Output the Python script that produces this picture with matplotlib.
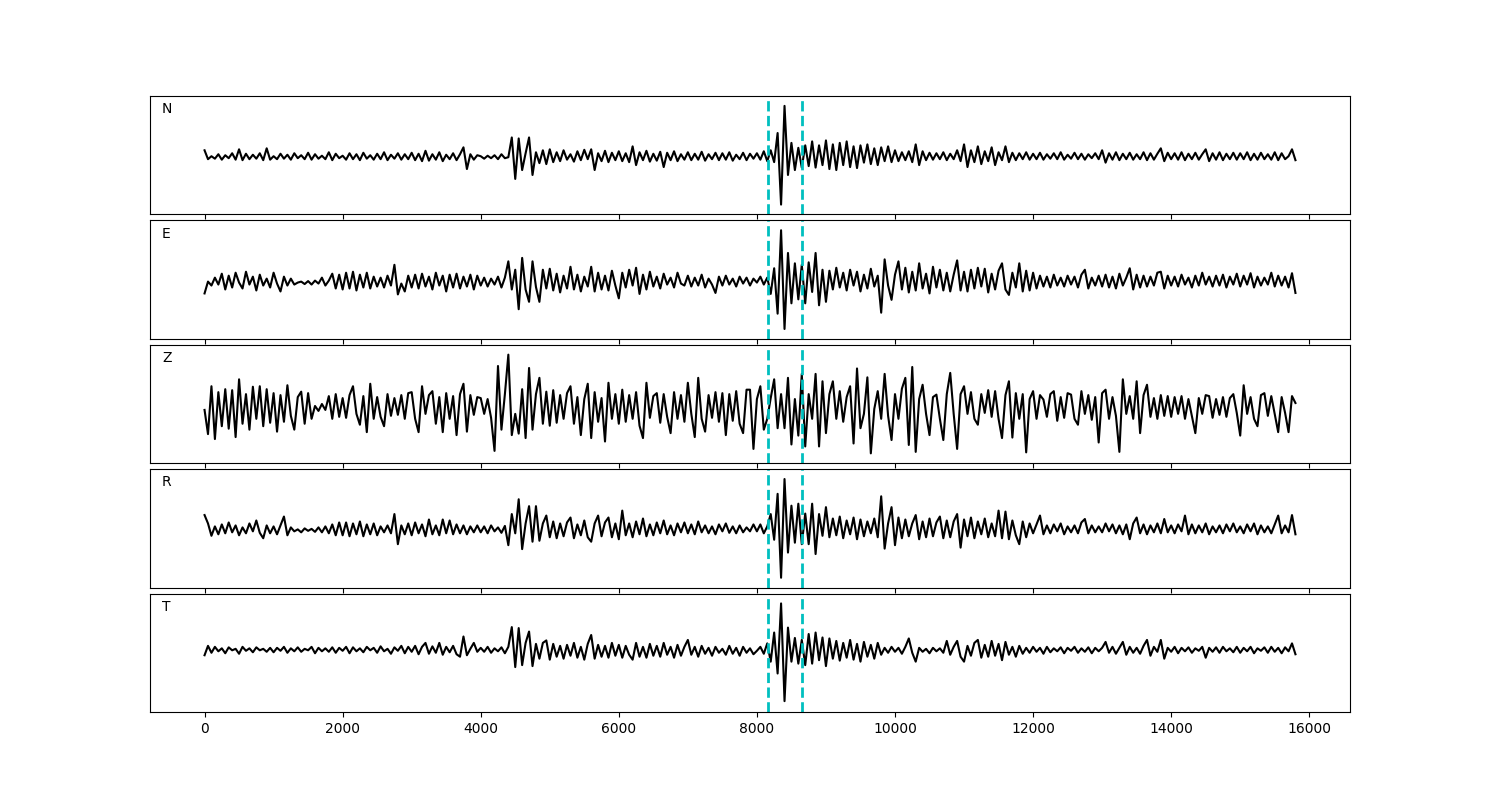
import numpy as np
import matplotlib
matplotlib.use("Agg")
import matplotlib.pyplot as plt

# channel names and sampling
channels = ["N", "E", "Z", "R", "T"]
sample_step = 50          # time units between samples
pick_times = [8160, 8660]  # dashed cyan markers

# normalised amplitudes (hundredths), one value every 50 time units, 0..15800
n_amp = (
    [10, -8, -2, -7, 2, -9, 0, -6, 4, -9, 12, -10, 3, -8, 1, -7, 4, -10, 14, -9]
    + [-2, -8, 3, -7, 1, -9, 4, -6, 0, -8, 5, -9, 2, -7, -1, -8, 6, -10, 3, -6]
    + [-1, -9, 4, -8, 2, -10, 5, -7, 0, -9, 3, -8, 6, -10, 1, -7, 4, -9, 2, -8]
    + [5, -10, 3, -12, 9, -11, 2, -9, 6, -12, 1, -8, 4, -10, 2, 16, -28, 2, -9, 0]
    + [-2, -7, -1, -6, 0, -8, 2, -6, -4, 36, -48, 34, -30, 4, 36, -40, 6, -16, 10, -18]
    + [12, -14, 6, -12, 10, -9, 2, -13, 8, -10, 11, -8, 12, -30, 4, -12, 9, -14, 5, -10]
    + [8, -12, 4, -14, 18, -20, 6, -10, 9, -13, 3, -11, 7, -24, 5, -10, 8, -12, 2, -9]
    + [6, -10, 3, -9, 7, -11, 2, -8, 5, -10, 4, -9, 6, -11, 1, -8, 5, -10, 3, -7]
    + [4, -9, 8, -12, 10, -14, 45, -100, 100, -40, 25, -30, 15, -25, 20, -22, 28, -25, 20, -20]
    + [30, -28, 22, -30, 25, -20, 28, -24, 18, -26, 20, -15, 22, -18, 14, -20, 16, -12, 18, -14]
    + [10, -12, 6, -10, 8, -14, 22, -20, 8, -10, 5, -9, 4, -8, 6, -10, 3, -8, 10, -12]
    + [22, -24, 10, -14, 18, -18, 8, -12, 16, -20, 6, -10, 18, -14, 5, -10, 4, -8, 6, -9]
    + [3, -8, 5, -9, 2, -7, 4, -8, 6, -9, 1, -7, 5, -8, 3, -9, 2, -6, 4, -8]
    + [10, -15, 4, -9, 6, -10, 3, -8, 5, -9, 2, -8, 6, -10, 4, -9, 3, 14, -12, 5]
    + [-8, 4, -9, 6, -10, 3, -8, 5, -9, 2, 12, -12, 4, -9, 6, -10, 3, -8, 5, -9]
    + [4, -8, 6, -10, 3, -9, 5, -8, 2, -9, 6, -10, 4, -8, -2, 12, -10]
)

e_amp = (
    [-28, -4, -12, 4, -10, 12, -20, 8, -16, 14, -6, -18, 16, -10, 6, -22, 10, -12, 2, -16]
    + [14, -8, -24, 6, -12, 2, -10, -6, -4, -9, -3, -10, -2, -8, 4, -12, -2, 12, -18, 10]
    + [-20, 14, -18, 16, -22, 10, -16, 14, -18, 6, -14, 4, -16, 8, -12, 30, -30, -8, -24, 8]
    + [-16, 10, -18, 12, -14, 6, -20, 14, -12, 8, -24, 10, -16, 12, -18, 6, -14, 10, -20, 8]
    + [-12, 4, -14, 2, -10, 6, -16, 4, 37, -20, 20, -60, 44, -20, -45, 37, -15, -45, 20, -18]
    + [22, -22, 12, -26, 8, -18, 26, -20, 10, -24, 6, -14, 26, -24, 14, -20, 8, -22, 18, -12]
    + [-38, 14, -16, 20, -12, 24, -29, 10, -20, 16, -14, 6, -18, 12, -10, 4, -16, 14, -8, -12]
    + [8, -14, 4, -12, 10, -16, 2, -10, -27, 6, -12, 8, -10, 2, -14, 6, -8, 4, -12, 2]
    + [-6, 6, -10, 4, -29, 23, -69, 100, -100, 54, -48, 33, -40, 30, -48, 35, -25, 54, -52, 20]
    + [-45, 18, -20, 24, -16, 14, -22, 20, -12, 16, -24, 10, -18, 22, -14, 8, -67, 41, -12, -41]
    + [10, 37, -20, 24, -26, 16, -22, 33, -18, 12, -28, 26, -16, 20, -22, 14, -24, 10, 39, -22]
    + [16, -24, 20, -18, 24, -14, 22, -26, 12, -20, 18, 33, -20, -31, 14, -16, 33, -24, 18, -22]
    + [14, -18, 8, -14, 6, -16, 10, -12, 4, -14, 8, -10, 6, -16, 10, 20, -18, 4, -12, 8]
    + [-14, 10, -16, 6, -18, 12, -12, 4, 23, -20, 10, -16, 8, -14, 6, -12, 14, 16, -18, 8]
    + [-12, 6, -14, 10, -10, 4, -16, 8, -12, 14, -10, 6, -14, 8, -12, 10, -16, 6, -10, 12]
    + [-14, 8, -10, 13, -16, 6, -12, 4, -10, 14, -14, 8, -12, 6, -16, 13, -27]
)

z_amp = (
    [-12, -61, 36, -71, 24, -45, 30, -50, 28, -67, 50, -40, 20, -52, 35, -30, 36, -45, 30, -38]
    + [22, -56, 18, -36, 38, -24, -52, 14, 25, -40, 22, -30, -4, -14, 0, -12, 16, -30, 20, -26]
    + [12, -28, 18, 36, -20, -42, 16, -57, 41, -30, 14, -26, -45, 20, -24, 12, -22, 18, -30, 22]
    + [24, -30, -57, 36, -20, 18, 26, -40, 14, -57, 22, -30, 16, -63, 20, 41, -56, 18, -22, 14]
    + [12, -20, 10, -28, -95, 77, -52, 20, 100, -63, -20, -60, 30, -69, 73, -52, 20, 53, -40, 25]
    + [-44, 28, -38, 18, -30, 22, 36, -40, 14, -63, 10, 41, -69, 24, -36, 12, -76, 43, -30, 20]
    + [-40, 29, -36, 18, -30, 24, -44, -69, 43, -28, 16, 22, -38, 20, -26, -59, 24, -30, 18, -36]
    + [43, -20, -67, 53, -30, -56, 18, -28, 24, -36, 22, -63, 20, -34, 26, -40, -59, 29, 29, -91]
    + [10, 36, -52, -30, 12, 50, -49, 20, -49, 53, -82, 10, -64, 61, -86, 20, -30, 61, -86, 46]
    + [-59, 20, 46, -30, 26, -36, 14, 36, -80, 72, -49, -20, 54, -100, -10, 26, -30, 61, -24, -73]
    + [20, -30, 31, 53, -83, 75, -97, 10, 39, -20, -63, 14, 19, -30, -73, 20, 63, -20, -91, 20]
    + [36, -20, 24, -30, -42, 20, -18, 28, -26, 26, -30, -69, 18, 46, -68, 22, -30, 20, -98, 10]
    + [26, -30, 18, 9, -26, 20, 26, -34, 14, -28, 22, 19, -30, -42, 26, -20, 18, -32, 14, -78]
    + [22, 29, -30, 14, -24, -97, 50, -20, 16, -30, 46, -59, 18, 39, -26, 12, -30, 18, -24, 16]
    + [-26, 14, -20, 16, -30, 10, -24, -59, 12, -20, 18, 16, -28, 10, -22, 14, -26, 12, 20, -18]
    + [-64, 38, -20, 14, -30, -45, 18, 22, -24, 16, -20, -57, 14, -18, -57, 16, 2]
)

r_amp = (
    [27, 10, -15, 4, -12, 8, -10, 12, -8, 6, -14, 2, -10, 10, -6, 16, -9, -20, 6, -10]
    + [4, -12, 6, 24, -14, 2, -6, -2, -8, 0, -5, -1, -7, 2, -8, 4, -10, 8, -14, 12]
    + [-14, 12, -16, 10, -12, 14, -16, 8, -12, 10, -14, 4, -8, 6, -10, 29, -32, 6, -12, 10]
    + [-14, 12, -10, 8, -16, 18, -12, 6, -14, 18, -10, 16, -12, 8, -10, 6, -12, 4, -8, 6]
    + [-8, 4, -10, 6, -6, 2, -9, 5, -34, 29, -10, 59, -42, 10, 45, -27, 45, -25, 10, 26]
    + [-18, 14, -20, 10, -16, 12, 22, -20, 8, -14, 16, -18, -27, 10, 26, -16, 12, 22, -18, 10]
    + [-22, 36, -14, 10, -18, 14, -12, 20, -16, 8, -14, 12, -10, 16, -12, 6, -14, 10, -8, 12]
    + [-10, 8, -12, 14, -8, 6, -10, 4, -12, 8, -6, 10, -9, 4, -10, 6, -8, 2, -6, 8]
    + [-6, 8, -10, 4, 29, -23, 70, -100, 100, -49, 46, -29, 50, -32, 30, -32, 50, -52, 29, -15]
    + [43, -18, 20, -14, 24, -20, 16, -12, 22, -22, 18, -16, 14, -10, 20, -18, 65, -41, 10, 43]
    + [-34, 22, -20, 18, -16, 10, 27, -22, 14, -18, 20, -16, 12, 24, -20, 16, -18, 14, 29, -39]
    + [18, -16, 22, -20, 14, -12, 20, -18, 10, -16, 36, -20, 34, -22, 16, -14, -32, 14, -18, 10]
    + [-10, 8, 26, -12, 6, -10, 8, -6, 10, -12, 4, -8, 6, -10, 12, 19, -10, 6, -8, 4]
    + [-8, 10, -6, 8, -10, 6, -12, 8, -22, 10, 22, -10, 8, -12, 6, -8, 10, -10, 19, -8]
    + [6, -10, 8, -6, 26, -12, 8, -10, 6, -8, 10, -12, 4, -8, 6, -10, 8, -6, 10, -8]
    + [4, -10, 8, -6, 10, -12, 6, -8, 4, -10, 8, 26, -10, 6, -8, 27, -12]
)

t_amp = (
    [-5, 14, 0, 12, 3, 9, -1, 11, 5, 8, -2, 12, 4, 9, 1, 11, 5, 8, 2, 10]
    + [1, 10, 4, 12, 0, 9, 3, 11, 2, 8, 5, 12, -1, 10, 3, 9, 2, 11, 0, 10]
    + [4, 12, -1, 11, 3, 9, 1, 12, 5, 10, 0, 13, 3, 8, -2, 11, 4, 14, -1, 12]
    + [2, 14, -3, 12, 20, -2, 13, 0, 20, -4, 12, 1, 14, -3, -8, 33, -5, 8, 20, 2]
    + [10, 2, 12, 0, 9, 3, 11, -1, 12, 52, -29, 50, -25, 20, 43, -27, 18, -12, 20, 25]
    + [-14, 18, -8, 14, -12, 16, -6, 20, -10, 12, -14, 18, 36, -12, 16, -8, 14, -10, 20, -6]
    + [16, -10, 14, -4, -14, 20, -8, 12, -10, 18, -6, 14, -8, 20, -4, 12, -10, 16, -6, 12]
    + [26, -4, 12, -8, 14, -2, 10, -6, 12, 0, 8, -4, 14, -2, 10, -6, 12, 0, 9, -3]
    + [4, 12, -2, 19, -18, 41, -42, 100, -98, 51, -18, 30, -22, 26, -25, 38, -22, 41, -15, 31]
    + [-27, 29, -12, 24, -16, 20, -10, 26, -14, 18, -18, 22, -8, 16, -12, 20, -4, 10, 0, 12]
    + [2, 10, -2, 12, 29, 0, -18, 10, 2, 8, -1, 10, 3, 9, 0, 24, -4, 12, 24, -8]
    + [-18, 14, -6, 20, 26, -10, 16, -8, 24, -6, 18, -15, 22, -4, 12, -8, 14, -2, 10, 0]
    + [12, 2, 10, -2, 12, 1, 9, 3, 11, -1, 10, 4, 12, 0, 9, 2, 11, -1, 10, 3]
    + [10, 22, 0, 12, -2, 10, 22, -4, 12, 0, 10, -2, 14, 26, -6, 12, 2, 26, -12, 10]
    + [2, 12, -1, 10, 3, 11, 0, 9, 4, 12, -10, 10, 2, 11, 0, 12, 3, 9, 1, 12]
    + [0, 10, 3, 12, -1, 9, 4, 11, 0, 12, 2, 10, -1, 11, 3, 19, -3]
)

traces = [n_amp, e_amp, z_amp, r_amp, t_amp]

fig, axes = plt.subplots(5, 1, sharex=True, figsize=(15, 8), dpi=100)
fig.subplots_adjust(left=0.1, right=0.9, top=0.88, bottom=0.11, hspace=0.05)

for ax, name, amp in zip(axes, channels, traces):
    y = np.asarray(amp, dtype=float) / 100.0
    t = np.arange(len(y)) * sample_step
    ax.plot(t, y, color="k", lw=1.5)
    for p in pick_times:
        ax.axvline(p, color="c", ls="--", lw=2)
    ax.set_ylim(-1.2, 1.2)
    ax.set_yticks([])
    ax.text(0.01, 0.855, name, transform=ax.transAxes, fontsize=10)

fig.savefig("out.png")
